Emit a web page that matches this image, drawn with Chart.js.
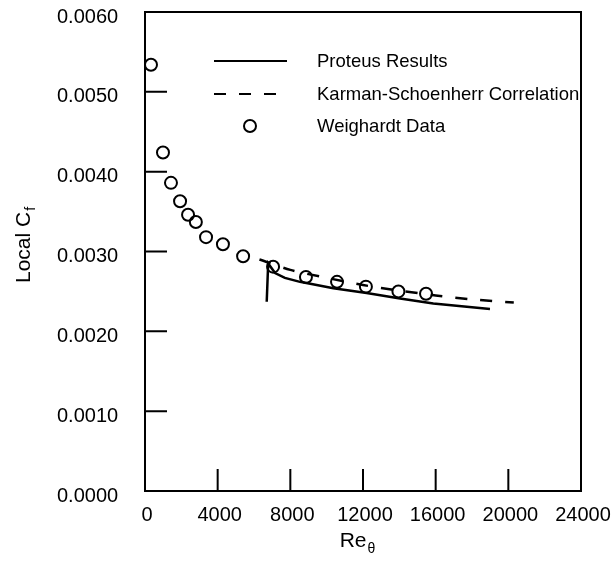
<!DOCTYPE html>
<html>
<head>
<meta charset="utf-8">
<title>Local Cf vs Re theta</title>
<script src="https://cdn.jsdelivr.net/npm/chart.js@4.4.1/dist/chart.umd.min.js"></script>
<style>
    html, body { margin: 0; padding: 0; background: #fff; }
    canvas { display: block; }
</style>
</head>
<body>
<canvas id="cfChart" width="614" height="563"></canvas>
<script>
// values
const weighardtRe = [330, 990, 1430, 1930, 2370, 2800, 3360, 4290, 5400, 7050, 8860, 10570, 12160, 13950, 15470];
const weighardtCf = [0.00534, 0.00424, 0.00386, 0.00363, 0.00346, 0.00337, 0.00318, 0.00309, 0.00294, 0.00281, 0.00268, 0.00262, 0.00256, 0.00250, 0.00247];

const proteusRe = [6700, 6780, 7160, 7700, 8530, 10370, 12200, 14040, 15870, 18990];
const proteusCf = [0.00237, 0.00285, 0.00273, 0.00267, 0.00262, 0.00254, 0.00248, 0.00241, 0.00235, 0.00228];

const karmanRe = [6300, 8000, 10000, 12000, 14000, 16000, 18000, 20300];
const karmanCf = [0.00290, 0.00277, 0.00267, 0.00258, 0.00251, 0.00245, 0.00240, 0.00236];

const xTicks = [0, 4000, 8000, 12000, 16000, 20000, 24000];
const yTicks = [0.0000, 0.0010, 0.0020, 0.0030, 0.0040, 0.0050, 0.0060];

const legendLabels = ["Proteus Results", "Karman-Schoenherr Correlation", "Weighardt Data"];

const FONT = '"Liberation Sans", Arial, Helvetica, sans-serif';
Chart.defaults.font.family = FONT;
Chart.defaults.color = "#000";

function toPoints(xs, ys) {
    return xs.map((x, i) => ({ x, y: ys[i] }));
}

//frame, inward ticks, legend and axis titles
const decorations = {
    id: "decorations",
    afterDraw(chart) {
        const ctx = chart.ctx;
        const a = chart.chartArea;
        const xs = chart.scales.x;
        const ys = chart.scales.y;

        ctx.save();
        ctx.strokeStyle = "#000";
        ctx.fillStyle = "#000";

        // legend
        const lx = a.left + 69;
        const tx = a.left + 172;
        const rows = [a.top + 49, a.top + 82, a.top + 114];

        ctx.lineWidth = 2;
        ctx.beginPath();
        ctx.moveTo(lx, rows[0]);
        ctx.lineTo(lx + 73, rows[0]);
        ctx.stroke();

        ctx.setLineDash([12, 13]);
        ctx.beginPath();
        ctx.moveTo(lx, rows[1]);
        ctx.lineTo(lx + 62, rows[1]);
        ctx.stroke();
        ctx.setLineDash([]);

        ctx.beginPath();
        ctx.arc(lx + 36, rows[2], 6, 0, Math.PI * 2);
        ctx.stroke();

        ctx.font = "18.5px " + FONT;
        ctx.textAlign = "left";
        ctx.textBaseline = "middle";
        legendLabels.forEach((t, i) => ctx.fillText(t, tx, rows[i] + 1));

        // frame
        ctx.lineWidth = 2;
        ctx.strokeRect(a.left, a.top, a.right - a.left, a.bottom - a.top);

        ctx.beginPath();
        xs.ticks.forEach(t => {
            if (t.value <= xs.min || t.value >= xs.max) return;
            const px = xs.getPixelForValue(t.value);
            ctx.moveTo(px, a.bottom);
            ctx.lineTo(px, a.bottom - 22);
        });
        ys.ticks.forEach(t => {
            if (t.value <= ys.min || t.value >= ys.max) return;
            const py = ys.getPixelForValue(t.value);
            ctx.moveTo(a.left, py);
            ctx.lineTo(a.left + 22, py);
        });
        ctx.stroke();

        // x title: Re with theta subscript
        ctx.textBaseline = "alphabetic";
        ctx.font = "21px " + FONT;
        const reW = ctx.measureText("Re").width;
        ctx.font = "14px " + FONT;
        const thW = ctx.measureText("θ").width;
        let sx = (a.left + a.right) / 2 - 6 - (reW + thW) / 2;
        ctx.font = "21px " + FONT;
        ctx.fillText("Re", sx, 547);
        ctx.font = "14px " + FONT;
        ctx.fillText("θ", sx + reW + 1, 553);

        // y title: Local C with f subscript
        ctx.translate(30, (a.top + a.bottom) / 2 - 6);
        ctx.rotate(-Math.PI / 2);
        ctx.font = "21px " + FONT;
        const lcW = ctx.measureText("Local C").width;
        ctx.font = "14px " + FONT;
        const fW = ctx.measureText("f").width;
        sx = -(lcW + fW) / 2;
        ctx.font = "21px " + FONT;
        ctx.fillText("Local C", sx, 0);
        ctx.font = "14px " + FONT;
        ctx.fillText("f", sx + lcW + 1, 5);

        ctx.restore();
    }
};

new Chart(document.getElementById("cfChart"), {
    type: "scatter",
    data: {
        datasets: [
            {
                label: legendLabels[0],
                data: toPoints(proteusRe, proteusCf),
                showLine: true,
                borderColor: "#000",
                borderWidth: 2.5,
                pointRadius: 0,
                tension: 0
            },
            {
                label: legendLabels[1],
                data: toPoints(karmanRe, karmanCf),
                showLine: true,
                borderColor: "#000",
                borderWidth: 2.5,
                borderDash: [12, 13],
                pointRadius: 0,
                tension: 0.3
            },
            {
                label: legendLabels[2],
                data: toPoints(weighardtRe, weighardtCf),
                showLine: false,
                borderColor: "#000",
                backgroundColor: "rgba(0,0,0,0)",
                borderWidth: 2,
                pointRadius: 6
            }
        ]
    },
    options: {
        responsive: false,
        animation: false,
        layout: { padding: { left: 57, right: 33, top: 12, bottom: 0 } },
        plugins: {
            legend: { display: false },
            tooltip: { enabled: false }
        },
        scales: {
            x: {
                type: "linear",
                min: xTicks[0],
                max: xTicks[xTicks.length - 1],
                afterBuildTicks: s => { s.ticks = xTicks.map(v => ({ value: v })); },
                afterFit: s => { s.height = 72; },
                grid: { display: false, drawTicks: false },
                border: { display: false },
                ticks: {
                    font: { size: 20, lineHeight: 2.4 },
                    color: "#000",
                    padding: 0,
                    labelOffset: 2,
                    maxRotation: 0,
                    callback: v => String(v)
                }
            },
            y: {
                type: "linear",
                min: yTicks[0],
                max: yTicks[yTicks.length - 1],
                afterBuildTicks: s => { s.ticks = yTicks.map(v => ({ value: v })); },
                afterFit: s => { s.width = 88; },
                grid: { display: false, drawTicks: false },
                border: { display: false },
                ticks: {
                    font: { size: 20 },
                    color: "#000",
                    padding: 0,
                    crossAlign: "far",
                    labelOffset: 5,
                    callback: v => Number(v).toFixed(4)
                }
            }
        }
    },
    plugins: [decorations]
});
</script>
</body>
</html>
